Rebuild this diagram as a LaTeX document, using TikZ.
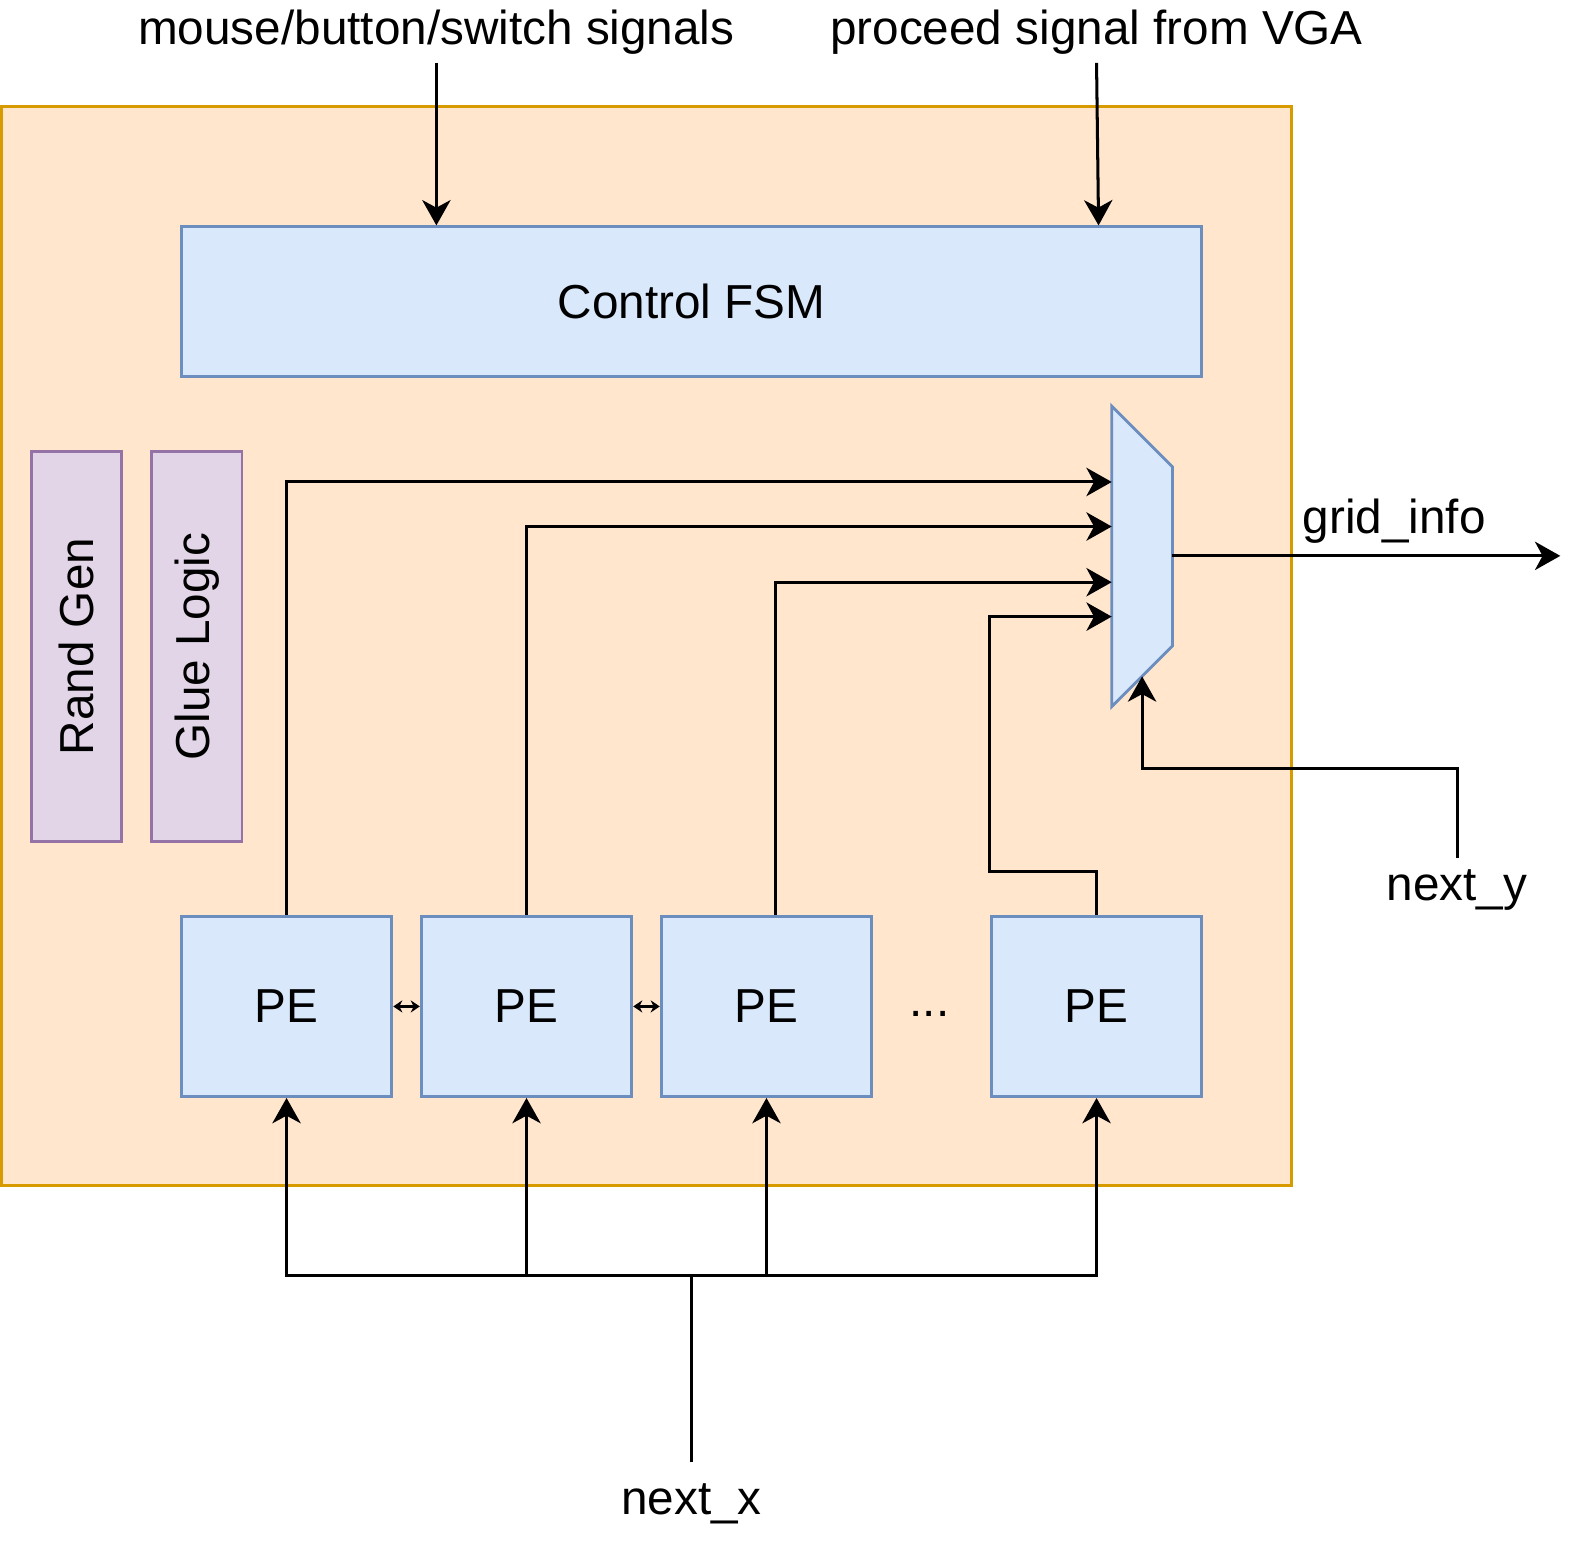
\documentclass[tikz,border=0pt]{standalone}
\usepackage{fontspec}
\setmainfont{Liberation Sans}
\usepackage{xcolor}
\definecolor{frameFill}{HTML}{FFE6CC}
\definecolor{frameLine}{HTML}{D79B00}
\definecolor{blockFill}{HTML}{DAE8FC}
\definecolor{blockLine}{HTML}{6C8EBF}
\definecolor{sideFill}{HTML}{E1D5E7}
\definecolor{sideLine}{HTML}{9673A6}
\usepackage{tikz}
\usetikzlibrary{arrows.meta,positioning,calc}
\newcommand\sigfont{\fontsize{26.8}{32}\selectfont}
\tikzset{
    frame/.style={
        draw=frameLine,
        fill=frameFill,
        rectangle,
        line width=1.6pt,
        minimum width=25.5cm,
        minimum height=21.32cm
    },
    block/.style={
        draw=blockLine,
        fill=blockFill,
        rectangle,
        line width=1.6pt,
        inner sep=0pt,
        font=\sigfont
    },
    pe/.style={
        block,
        minimum width=4.16cm,
        minimum height=3.56cm
    },
    side/.style={
        draw=sideLine,
        fill=sideFill,
        rectangle,
        line width=1.6pt,
        inner sep=0pt,
        minimum width=7.7cm,
        minimum height=1.78cm,
        rotate=90,
        font=\sigfont
    },
    muxshape/.style={
        draw=blockLine,
        fill=blockFill,
        line width=1.6pt,
        line join=miter
    },
    arrow/.style={
        -{Stealth[length=0.5cm,width=0.56cm,inset=0.15cm]},
        line width=1.7pt
    },
    link/.style={
        {Stealth[length=0.18cm,width=0.24cm]}-{Stealth[length=0.18cm,width=0.24cm]},
        line width=1.6pt
    },
    wire/.style={
        line width=1.7pt
    },
    label/.style={
        font=\sigfont,
        inner sep=0pt
    }
}

\begin{document}
\begin{tikzpicture}[x=0.02cm, y=-0.02cm]
    \useasboundingbox (0,0) rectangle (1567.4,1528.9);
    \node[frame] (top) at (638.5,638) {};

    \node[block, minimum width=20.16cm, minimum height=2.96cm] (fsm) at (683,298) {Control FSM};
    \node[side] (rand) at (75.5,638.5) {Rand Gen};
    \node[side] (glue) at (194.5,638.5) {Glue Logic};

    \node[pe] (pe1) at (283,994) {PE};
    \node[pe] (pe2) at (520,994) {PE};
    \node[pe] (pe3) at (757,994) {PE};
    \node[pe] (pe4) at (1083,994) {PE};
    \node[label, anchor=base] (dots) at (918,1004) {...};

    % multiplexer
    \draw[muxshape] (1098,401) -- (1158,461) -- (1158,638) -- (1098,698) -- cycle;
    \coordinate (mux-in1) at (1098,476);
    \coordinate (mux-in2) at (1098,520);
    \coordinate (mux-in3) at (1098,575);
    \coordinate (mux-in4) at (1098,609);
    \coordinate (mux-out) at (1158,549);
    \coordinate (mux-sel) at (1128,668);
    \coordinate (gridend) at (1541,549);
    \coordinate (bus) at (683,1260);

    \node[label, anchor=base, inner ysep=0.16cm] (sigin) at (431,44) {mouse/button/switch signals};
    \node[label, anchor=base, inner ysep=0.16cm] (vgain) at (1083,44) {proceed signal from VGA};
    \node[label, anchor=base] (gridinfo) at (1377,527) {grid\_info};
    \node[label, anchor=base, inner ysep=0.22cm] (nexty) at (1439,889) {next\_y};
    \node[label, anchor=base, inner ysep=0.42cm] (nextx) at (683,1496) {next\_x};

    \draw[arrow] (sigin.south) -- (sigin.south |- fsm.north);
    \draw[arrow] (vgain.south) -- ([xshift=0.04cm]vgain.south |- fsm.north);

    \draw[arrow] (pe1.north) |- (mux-in1);
    \draw[arrow] (pe2.north) |- (mux-in2);
    \draw[arrow] ([xshift=0.18cm]pe3.north) |- (mux-in3);
    \draw[arrow] (pe4.north) -- ++(0,-43) -| (pe4.west |- mux-in4) -- (mux-in4);
    \draw[arrow] (mux-out) -- (gridend);
    \draw[arrow] (nexty.north) -- ++(0,-88) -| (mux-sel);

    \draw[link] (pe1) -- (pe2);
    \draw[link] (pe2) -- (pe3);

    \draw[wire] (nextx.north) -- (bus);
    \foreach \p in {pe1,pe2,pe3,pe4}
        \draw[arrow] (bus) -| (\p.south);
\end{tikzpicture}
\end{document}
